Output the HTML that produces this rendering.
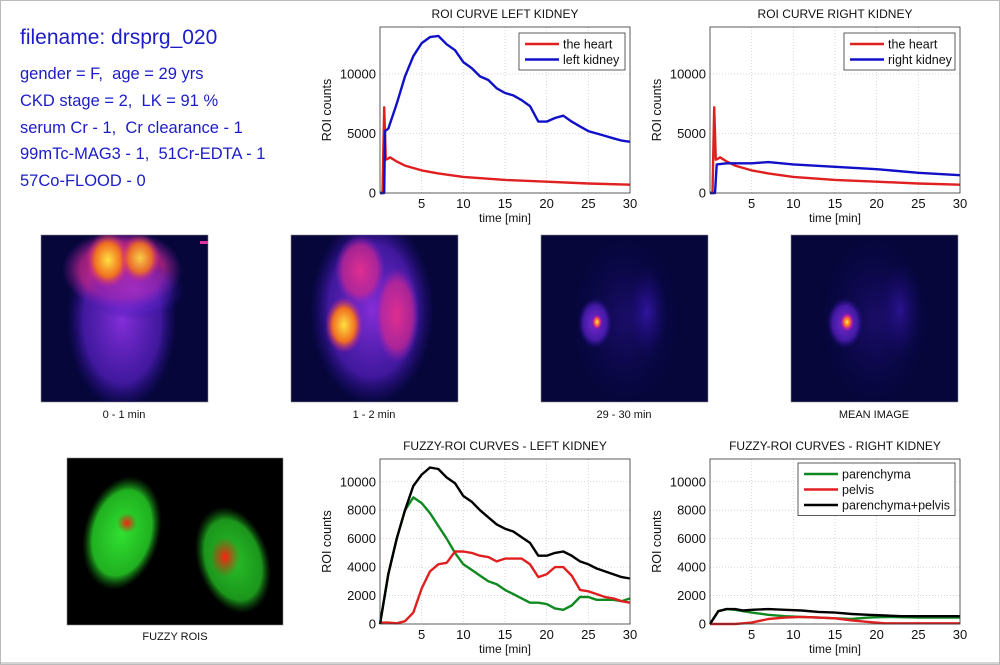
<!DOCTYPE html>
<html><head><meta charset="utf-8">
<style>
html,body{margin:0;padding:0;background:#fff;}
body{width:1000px;height:665px;overflow:hidden;position:relative;font-family:"Liberation Sans",sans-serif;}
svg{position:absolute;left:0;top:0;}
text{white-space:pre;}
</style></head>
<body>
<svg id="fig" width="1000" height="665" viewBox="0 0 1000 665">
<defs>
<radialGradient id="gPurple" cx="50%" cy="50%" r="50%"><stop offset="0" stop-color="#8a30e0" stop-opacity="0.95"/><stop offset="0.7" stop-color="#5a20c8" stop-opacity="0.7"/><stop offset="1" stop-color="#2a10a0" stop-opacity="0"/></radialGradient>
<radialGradient id="gFaint" cx="50%" cy="50%" r="50%"><stop offset="0" stop-color="#3a18b0" stop-opacity="0.8"/><stop offset="1" stop-color="#1a0a80" stop-opacity="0"/></radialGradient>
<radialGradient id="gHot" cx="50%" cy="50%" r="50%"><stop offset="0" stop-color="#ffe040"/><stop offset="0.6" stop-color="#f07020"/><stop offset="1" stop-color="#d02090" stop-opacity="0"/></radialGradient>
<radialGradient id="gRed" cx="50%" cy="50%" r="50%"><stop offset="0" stop-color="#f0308a" stop-opacity="0.9"/><stop offset="0.7" stop-color="#d02890" stop-opacity="0.7"/><stop offset="1" stop-color="#a020c0" stop-opacity="0"/></radialGradient>
<radialGradient id="gSpot" cx="50%" cy="50%" r="50%"><stop offset="0" stop-color="#fff060"/><stop offset="0.3" stop-color="#ff8020"/><stop offset="0.6" stop-color="#c020a0"/><stop offset="1" stop-color="#3010a0" stop-opacity="0"/></radialGradient>
<radialGradient id="gGreen" cx="50%" cy="50%" r="50%"><stop offset="0" stop-color="#30e030"/><stop offset="0.75" stop-color="#20b020"/><stop offset="1" stop-color="#106010" stop-opacity="0"/></radialGradient>
<radialGradient id="gRoiRed" cx="50%" cy="50%" r="50%"><stop offset="0" stop-color="#ff2010"/><stop offset="1" stop-color="#c03010" stop-opacity="0"/></radialGradient>
<clipPath id="c1"><rect x="41" y="235" width="167" height="167"/></clipPath>
<clipPath id="c2"><rect x="291" y="235" width="167" height="167"/></clipPath>
<clipPath id="c3"><rect x="541" y="235" width="167" height="167"/></clipPath>
<clipPath id="c4"><rect x="791" y="235" width="167" height="167"/></clipPath>
<clipPath id="c5"><rect x="67" y="458" width="216" height="167"/></clipPath>
</defs>

<rect x="0.5" y="0.5" width="999" height="664" fill="none" stroke="#bbb"/>

<g fill="#1c1cc8">
<text x="20" y="44" font-size="21">filename: drsprg_020</text>
<text x="20" y="79" font-size="16.5">gender = F,  age = 29 yrs</text>
<text x="20" y="106" font-size="16.5">CKD stage = 2,  LK = 91 %</text>
<text x="20" y="133" font-size="16.5">serum Cr - 1,  Cr clearance - 1</text>
<text x="20" y="159" font-size="16.5">99mTc-MAG3 - 1,  51Cr-EDTA - 1</text>
<text x="20" y="186" font-size="16.5">57Co-FLOOD - 0</text>
</g>

<g>
<rect x="41" y="235" width="167" height="167" fill="#06063a" stroke="#888" stroke-width="0.6"/>
<g clip-path="url(#c1)">
<ellipse cx="122" cy="320" rx="55" ry="90" fill="url(#gPurple)"/>
<ellipse cx="122" cy="270" rx="60" ry="40" fill="url(#gRed)"/>
<ellipse cx="135" cy="290" rx="50" ry="30" fill="url(#gPurple)" opacity="0.6"/>
<ellipse cx="108" cy="260" rx="22" ry="28" fill="url(#gHot)"/>
<ellipse cx="140" cy="258" rx="20" ry="24" fill="url(#gHot)" opacity="0.9"/>
<rect x="200" y="241" width="8" height="3" fill="#e030a0"/>
</g>
<text x="124" y="418" font-size="11" text-anchor="middle" fill="#111">0 - 1 min</text>
</g>
<g>
<rect x="291" y="235" width="167" height="167" fill="#06063a" stroke="#888" stroke-width="0.6"/>
<g clip-path="url(#c2)">
<ellipse cx="372" cy="310" rx="62" ry="95" fill="url(#gPurple)"/>
<ellipse cx="360" cy="270" rx="25" ry="35" fill="url(#gRed)"/>
<ellipse cx="397" cy="315" rx="22" ry="48" fill="url(#gRed)"/>
<ellipse cx="344" cy="325" rx="19" ry="28" fill="url(#gHot)"/>
</g>
<text x="374" y="418" font-size="11" text-anchor="middle" fill="#111">1 - 2 min</text>
</g>
<g>
<rect x="541" y="235" width="167" height="167" fill="#06063a" stroke="#888" stroke-width="0.6"/>
<g clip-path="url(#c3)">
<ellipse cx="625" cy="320" rx="55" ry="85" fill="url(#gFaint)" opacity="0.5"/>
<ellipse cx="647" cy="312" rx="20" ry="45" fill="url(#gFaint)"/>
<ellipse cx="595" cy="323" rx="17" ry="25" fill="url(#gPurple)"/>
<ellipse cx="597" cy="322" rx="6" ry="9" fill="url(#gSpot)"/>
</g>
<text x="624" y="418" font-size="11" text-anchor="middle" fill="#111">29 - 30 min</text>
</g>
<g>
<rect x="791" y="235" width="167" height="167" fill="#06063a" stroke="#888" stroke-width="0.6"/>
<g clip-path="url(#c4)">
<ellipse cx="875" cy="320" rx="55" ry="85" fill="url(#gFaint)" opacity="0.5"/>
<ellipse cx="900" cy="310" rx="22" ry="48" fill="url(#gFaint)" opacity="0.8"/>
<ellipse cx="845" cy="323" rx="18" ry="25" fill="url(#gPurple)"/>
<ellipse cx="847" cy="322" rx="8" ry="11" fill="url(#gSpot)"/>
</g>
<text x="874" y="418" font-size="11" text-anchor="middle" fill="#111">MEAN IMAGE</text>
</g>
<g>
<rect x="67" y="458" width="216" height="167" fill="#000" stroke="#888" stroke-width="0.6"/>
<g clip-path="url(#c5)">
<ellipse cx="122" cy="533" rx="38" ry="58" transform="rotate(15 122 533)" fill="url(#gGreen)"/>
<ellipse cx="127" cy="523" rx="10" ry="10" fill="url(#gRoiRed)"/>
<ellipse cx="233" cy="560" rx="36" ry="55" transform="rotate(-18 233 560)" fill="url(#gGreen)" opacity="0.85"/>
<ellipse cx="225" cy="557" rx="15" ry="20" fill="url(#gRoiRed)"/>
</g>
<text x="175" y="640" font-size="11" text-anchor="middle" fill="#111">FUZZY ROIS</text>
</g>
<line x1="0" y1="663" x2="1000" y2="663" stroke="#aaa"/>
</svg>

<script>
const heartT = [0,0.3,0.5,0.7,1,1.2,2,3,5,7,10,15,20,25,30];
const heartV = [0,0,7200,2800,2900,3000,2650,2300,1900,1650,1350,1100,950,800,700];
const lkT = [0,0.5,0.6,1,2,3,4,5,6,7,8,9,10,11,12,13,14,15,16,17,18,19,20,21,22,23,24,25,26,27,28,29,30];
const lkV = [0,0,5200,5400,7500,9800,11500,12600,13100,13200,12500,12000,11000,10500,9800,9500,8800,8400,8200,7800,7300,6000,6000,6300,6500,6000,5600,5200,5000,4800,4600,4400,4300];
const rkT = [0,0.6,0.8,2,5,7,10,15,20,25,30];
const rkV = [0,0,2400,2500,2500,2600,2400,2200,2000,1700,1500];

const fT = [0,1,2,3,4,5,6,7,8,9,10,11,12,13,14,15,16,17,18,19,20,21,22,23,24,25,26,27,28,29,30];
const flBlack = [0,3500,6000,8000,9700,10500,11000,10900,10300,9900,9000,8600,8000,7500,7000,6700,6500,6100,5700,4800,4800,5000,5100,4800,4400,4200,3900,3700,3500,3300,3200];
const flGreen = [0,3500,6000,8000,8900,8500,7800,6900,6000,5000,4200,3800,3400,3000,2800,2400,2100,1800,1500,1500,1400,1100,1000,1300,1900,1900,1700,1700,1700,1600,1800];
const flRed = [100,100,50,200,800,2500,3700,4200,4300,5100,5100,5000,4800,4700,4400,4600,4600,4600,4200,3300,3500,4000,4000,3400,2400,2300,2100,1900,1800,1600,1500];
const frT = [0,1,2,3,4,5,7,9,11,13,15,17,19,21,23,25,27,30];
const frBlack = [0,900,1050,1050,950,1000,1050,1000,950,850,800,700,650,600,550,550,550,550];
const frGreen = [0,900,1050,1000,900,800,650,550,500,450,400,350,450,500,480,450,450,450];
const frRed = [0,0,0,0,50,100,350,450,500,450,400,250,150,50,50,50,50,50];

const xTicks = [5,10,15,20,25,30];
const yTicksTop = [0,5000,10000];
const yTicksBot = [0,2000,4000,6000,8000,10000];

const NS = "http://www.w3.org/2000/svg";
const fig = document.getElementById('fig');
function mk(tag, attrs, parent){const e=document.createElementNS(NS,tag);for(const k in attrs)e.setAttribute(k,attrs[k]);(parent||fig).appendChild(e);return e;}

function plot(name, box, ymax, yTicks, title, series, legend){
  const g = mk('g',{});
  
  
  const xs = t => box.x + t/30*box.w;
  const ys = v => box.y + box.h - v/ymax*box.h;
  mk('rect',{x:box.x,y:box.y,width:box.w,height:box.h,fill:'#fff',stroke:'none'},g);
  xTicks.forEach(t=>{
    const x = xs(t);
    if(t<30) mk('line',{x1:x,y1:box.y,x2:x,y2:box.y+box.h,stroke:'#ccc','stroke-dasharray':'1,2','stroke-width':0.8},g);
    const tl = mk('text',{x:x,y:box.y+box.h+15,'font-size':13,'text-anchor':'middle',fill:'#111'},g);
    tl.textContent = t;
    
    
  });
  yTicks.forEach(v=>{
    const y = ys(v);
    if(v>0) mk('line',{x1:box.x,y1:y,x2:box.x+box.w,y2:y,stroke:'#ccc','stroke-dasharray':'1,2','stroke-width':0.8},g);
    const tl = mk('text',{x:box.x-4,y:y+4.5,'font-size':13,'text-anchor':'end',fill:'#111'},g);
    tl.textContent = v;
    
    
  });
  const tt = mk('text',{x:box.x+box.w/2,y:box.y-9,'font-size':12,'text-anchor':'middle',fill:'#111'},g);
  tt.textContent = title;
  
  
  const xl = mk('text',{x:box.x+box.w/2,y:box.y+box.h+29,'font-size':12,'text-anchor':'middle',fill:'#111'},g);
  xl.textContent = 'time [min]';
  
  
  const yl = mk('text',{x:0,y:0,'font-size':12.5,'text-anchor':'middle',fill:'#111',transform:`translate(${box.x-49},${box.y+box.h/2}) rotate(-90)`},g);
  yl.textContent = 'ROI counts';
  
  
  series.forEach(s=>{
    const d = s.t.map((t,i)=>(i?'L':'M')+xs(t).toFixed(1)+','+ys(s.v[i]).toFixed(1)).join('');
    const p = mk('path',{d:d,fill:'none',stroke:s.c,'stroke-width':2.4,'stroke-linejoin':'round'},g);
    
    
  });
  mk('rect',{x:box.x,y:box.y,width:box.w,height:box.h,fill:'none',stroke:'#333','stroke-width':0.8},g);
  if(legend){
    const lg = mk('g',{},g);
    
    
    mk('rect',{x:legend.x,y:legend.y,width:legend.w,height:legend.items.length*15.5+6,fill:'#fff',stroke:'#333','stroke-width':0.8},lg);
    legend.items.forEach((it,i)=>{
      const y = legend.y+11+i*15.5;
      mk('line',{x1:legend.x+6,y1:y,x2:legend.x+40,y2:y,stroke:it.c,'stroke-width':2.4},lg);
      const te = mk('text',{x:legend.x+44,y:y+4.5,'font-size':12.5,fill:'#111'},lg);
      te.textContent = it.l;
      
      
    });
  }
}
const RED='#e02020', BLUE='#1010c8', GREEN='#108a20', BLACK='#000';
plot('roi-curve-left-kidney',{x:380,y:27,w:250,h:166},13950,yTicksTop,'ROI CURVE LEFT KIDNEY',
  [{t:heartT,v:heartV,c:RED,n:'heart-line'},{t:lkT,v:lkV,c:BLUE,n:'left-kidney-line'}],
  {x:519,y:33,w:106,items:[{c:RED,l:'the heart'},{c:BLUE,l:'left kidney'}]});
plot('roi-curve-right-kidney',{x:710,y:27,w:250,h:166},13950,yTicksTop,'ROI CURVE RIGHT KIDNEY',
  [{t:heartT,v:heartV,c:RED,n:'heart-line'},{t:rkT,v:rkV,c:BLUE,n:'right-kidney-line'}],
  {x:844,y:33,w:111,items:[{c:RED,l:'the heart'},{c:BLUE,l:'right kidney'}]});
plot('fuzzy-roi-left-kidney',{x:380,y:459,w:250,h:165},11600,yTicksBot,'FUZZY-ROI CURVES - LEFT KIDNEY',
  [{t:fT,v:flGreen,c:GREEN,n:'parenchyma-line'},{t:fT,v:flRed,c:RED,n:'pelvis-line'},{t:fT,v:flBlack,c:BLACK,n:'total-line'}],null);
plot('fuzzy-roi-right-kidney',{x:710,y:459,w:250,h:165},11600,yTicksBot,'FUZZY-ROI CURVES - RIGHT KIDNEY',
  [{t:frT,v:frGreen,c:GREEN,n:'parenchyma-line'},{t:frT,v:frRed,c:RED,n:'pelvis-line'},{t:frT,v:frBlack,c:BLACK,n:'total-line'}],
  {x:798,y:463,w:157,items:[{c:GREEN,l:'parenchyma'},{c:RED,l:'pelvis'},{c:BLACK,l:'parenchyma+pelvis'}]});
</script>
</body></html>
